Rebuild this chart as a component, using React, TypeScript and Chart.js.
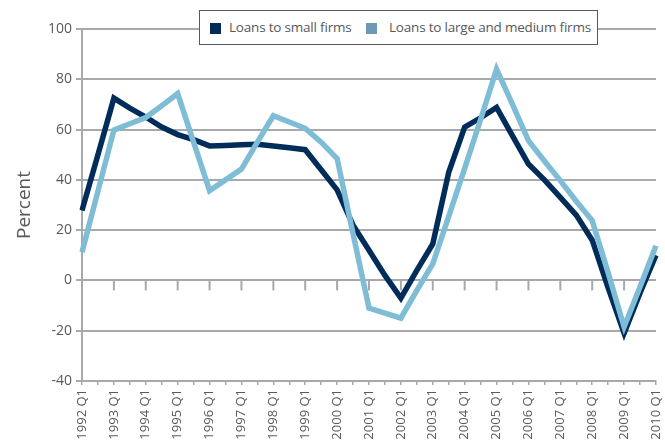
import React, { useEffect, useRef } from "react";
import { Chart, registerables } from "chart.js";

Chart.register(...registerables);

const categories: string[] = [
  "1992 Q1", "1992 Q3", "1993 Q1", "1993 Q3", "1994 Q1", "1994 Q3",
  "1995 Q1", "1995 Q3", "1996 Q1", "1996 Q3", "1997 Q1", "1997 Q3",
  "1998 Q1", "1998 Q3", "1999 Q1", "1999 Q3", "2000 Q1", "2000 Q3",
  "2001 Q1", "2001 Q3", "2002 Q1", "2002 Q3", "2003 Q1", "2003 Q3",
  "2004 Q1", "2004 Q3", "2005 Q1", "2005 Q3", "2006 Q1", "2006 Q3",
  "2007 Q1", "2007 Q3", "2008 Q1", "2008 Q3", "2009 Q1", "2009 Q3",
  "2010 Q1",
];

const smallFirms: number[] = [
  27.8, 50, 72.5, 68.5, 65, 61, 58, 56, 53.5, 53.7, 54, 54.2, 53.5, 52.8,
  52, 44, 36, 22, 12, 2, -7, 4, 14.5, 43, 61, 64.7, 68.8, 57.5, 46.3, 40,
  33, 26, 16, -3, -21, -5, 10,
];

const largeMediumFirms: number[] = [
  11.2, 35.5, 59.8, 62.3, 64.8, 69.5, 74.3, 55, 35.7, 40, 44.3, 55, 65.5,
  63, 60.5, 55, 48.5, 18.5, -11, -13, -15, -4, 6.6, 25.5, 44.6, 64, 84, 70,
  55.6, 47.5, 39.7, 31.5, 23.8, 3, -18.5, -2.5, 13.8,
];

const seriesNames: string[] = ["Loans to small firms", "Loans to large and medium firms"];
const yTicks = { min: -40, max: 100, step: 20 };

const DARK = "#002c5a";
const LIGHT = "#7fbdd6";
const LIGHT_KEY = "#6e99b6";
const GRID = "#a7a9ac";
const TEXT = "#58595b";
const FONT = '"Open Sans", "Noto Sans", sans-serif';

const zeroTicks = {
  id: "zeroTicks",
  beforeDatasetsDraw(chart: any) {
    const { ctx, scales } = chart;
    const x = scales.x;
    const y = scales.y;
    const y0 = y.getPixelForValue(0);
    ctx.save();
    ctx.strokeStyle = GRID;
    ctx.lineWidth = 2;
    categories.forEach((c, i) => {
      if (i % 2 === 0 && i > 0 && i < categories.length - 1) {
        const px = x.getPixelForValue(i);
        ctx.beginPath();
        ctx.moveTo(px, y0);
        ctx.lineTo(px, y0 + 10);
        ctx.stroke();
      }
    });
    ctx.restore();
  },
};

export default function App() {
  const canvasRef = useRef<HTMLCanvasElement | null>(null);

  useEffect(() => {
    if (!canvasRef.current) return;
    Chart.defaults.font.family = FONT;
    const chart = new Chart(canvasRef.current, {
      type: "line",
      data: {
        labels: categories,
        datasets: [
          {
            label: seriesNames[0],
            data: smallFirms,
            borderColor: DARK,
            backgroundColor: DARK,
            borderWidth: 5.5,
            pointRadius: 0,
            tension: 0,
            borderJoinStyle: "miter",
            order: 2,
          },
          {
            label: seriesNames[1],
            data: largeMediumFirms,
            borderColor: LIGHT,
            backgroundColor: LIGHT_KEY,
            borderWidth: 5.5,
            pointRadius: 0,
            tension: 0,
            borderJoinStyle: "miter",
            order: 1,
          },
        ],
      },
      options: {
        responsive: false,
        animation: false,
        layout: { padding: { top: 29, right: 9, left: 0, bottom: 0 } },
        plugins: {
          legend: { display: false },
          tooltip: { enabled: false },
        },
        scales: {
          x: {
            type: "category",
            offset: false,
            afterFit: (scale: any) => {
              scale.height = 63;
              scale.paddingLeft = 0;
              scale.paddingRight = 0;
            },
            grid: {
              display: true,
              drawOnChartArea: false,
              drawTicks: true,
              tickLength: 4,
              color: GRID,
              lineWidth: 1.5,
            },
            border: { display: true, color: GRID, width: 2 },
            ticks: {
              autoSkip: false,
              maxRotation: 90,
              minRotation: 90,
              padding: 4,
              color: TEXT,
              font: { size: 13, family: FONT },
              callback: (_v: any, i: number) => (i % 2 === 0 ? categories[i] : ""),
            },
          },
          y: {
            min: yTicks.min,
            max: yTicks.max,
            afterFit: (scale: any) => {
              scale.width = 82;
            },
            grid: {
              color: GRID,
              lineWidth: 2,
              drawTicks: true,
              tickLength: 6,
            },
            border: { display: true, color: GRID, width: 2 },
            ticks: {
              stepSize: yTicks.step,
              padding: 4,
              color: TEXT,
              font: { size: 14, family: FONT },
            },
            title: {
              display: true,
              text: "Percent",
              color: TEXT,
              font: { size: 19, family: FONT },
              padding: { top: 13, bottom: 0 },
            },
          },
        },
      },
      plugins: [zeroTicks],
    });
    return () => chart.destroy();
  }, []);

  const keyStyle = (color: string, left: number): React.CSSProperties => ({
    position: "absolute",
    left,
    top: 12,
    width: 11,
    height: 11,
    background: color,
  });
  const textStyle = (left: number): React.CSSProperties => ({
    position: "absolute",
    left,
    top: 6,
    fontFamily: FONT,
    fontSize: 13.5,
    color: TEXT,
    whiteSpace: "nowrap",
    letterSpacing: "-0.2px",
    lineHeight: "20px",
  });

  return (
    <div style={{ position: "fixed", left: 0, top: 0, width: 665, height: 444, background: "#fff" }}>
      <canvas ref={canvasRef} width={665} height={444} style={{ display: "block" }} />
      <div
        style={{
          position: "absolute",
          left: 199,
          top: 10,
          width: 397,
          height: 33,
          border: "1.5px solid " + TEXT,
          background: "#fff",
        }}
      >
        <div style={keyStyle(DARK, 10)} />
        <div style={textStyle(29)}>{seriesNames[0]}</div>
        <div style={keyStyle(LIGHT_KEY, 166)} />
        <div style={textStyle(189)}>{seriesNames[1]}</div>
      </div>
    </div>
  );
}
